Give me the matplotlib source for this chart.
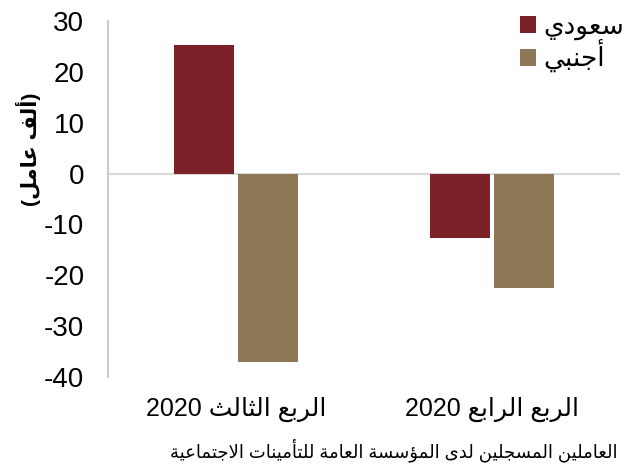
import re

import matplotlib.pyplot as plt
import numpy as np

# data (thousand workers)
categories = ["الربع الثالث 2020", "الربع الرابع 2020"]
series_names = ["سعودي", "أجنبي"]
saudi = [25.3, -12.7]
foreign = [-37.0, -22.5]
y_label = "(ألف عامل)"
source_note = "العاملين المسجلين لدى المؤسسة العامة للتأمينات الاجتماعية"

colors = ["#7d2129", "#8c7757"]

# --- minimal Arabic shaping (presentation forms + visual RTL order) ---
_letters = "ءآأؤإئابةتثجحخدذرزسشصضطظعغ" + "فقكلمنهوىي"
_counts = [1, 2, 2, 2, 2, 4, 2, 4, 2, 4, 4, 4, 4, 4, 2, 2, 2, 2,
           4, 4, 4, 4, 4, 4, 4, 4, 4, 4, 4, 4, 4, 4, 4, 2, 2, 4]
FORMS = {}
_cp = 0xFE80
for _ch, _n in zip(_letters, _counts):
    FORMS[_ch] = [chr(_cp + k) for k in range(_n)]
    _cp += _n
LAM_ALEF = {"ا": ("\uFEFB", "\uFEFC"), "أ": ("\uFEF7", "\uFEF8"),
            "إ": ("\uFEF9", "\uFEFA"), "آ": ("\uFEF5", "\uFEF6")}


def ar(text):
    out = []
    prev_joins = False
    i = 0
    while i < len(text):
        c = text[i]
        if c not in FORMS:
            out.append(c)
            prev_joins = False
            i += 1
            continue
        if c == "ل" and i + 1 < len(text) and text[i + 1] in LAM_ALEF:
            out.append(LAM_ALEF[text[i + 1]][1 if prev_joins else 0])
            prev_joins = False
            i += 2
            continue
        nxt = text[i + 1] if i + 1 < len(text) else ""
        forms = FORMS[c]
        to_next = len(forms) == 4 and nxt in FORMS
        if len(forms) == 1:
            g = forms[0]
        elif prev_joins and to_next:
            g = forms[3]
        elif prev_joins:
            g = forms[1]
        elif to_next:
            g = forms[2]
        else:
            g = forms[0]
        out.append(g)
        prev_joins = to_next
        i += 1
    r = "".join(out)[::-1].translate(str.maketrans("()", ")("))
    return re.sub(r"[0-9]+", lambda m: m.group(0)[::-1], r)


plt.rcParams["font.family"] = ["Liberation Sans", "DejaVu Sans"]
plt.rcParams["axes.unicode_minus"] = False

fig = plt.figure(figsize=(6.29, 4.65), dpi=100)
ax = fig.add_axes([108 / 629, 1 - 377 / 465, 512 / 629, 356 / 465])

x = np.arange(len(categories))
w = 0.235
off = 0.126
ax.bar(x - off, saudi, w, color=colors[0], label=ar(series_names[0]))
ax.bar(x + off, foreign, w, color=colors[1], label=ar(series_names[1]))

ax.set_xlim(-0.5, 1.5)
ax.set_ylim(-40, 30)
ax.set_yticks(range(-40, 31, 10))
ax.axhline(0, color="#d9d9d9", linewidth=1.5, zorder=0)

for side in ["top", "right", "bottom"]:
    ax.spines[side].set_visible(False)
ax.spines["left"].set_color("#cccccc")
ax.spines["left"].set_linewidth(1.5)

ax.tick_params(axis="y", length=0, pad=17, labelsize=20)
ax.tick_params(axis="x", length=0, pad=14, labelsize=18)
ax.set_xticks(x)
ax.set_xticklabels([ar(c) for c in categories])

fig.text(28 / 629, 1 - 149 / 465, ar(y_label), rotation=90, fontsize=15,
         fontweight="bold", ha="center", va="center")
fig.text(618 / 629, 1 - 450 / 465, ar(source_note), fontsize=13,
         ha="right", va="center")

ax.legend(loc="upper right", bbox_to_anchor=(643 / 629, 1 + 4 / 465),
          bbox_transform=fig.transFigure, frameon=False, fontsize=19,
          handlelength=0.6, handleheight=0.6, handletextpad=0.3,
          labelspacing=0.0, borderpad=0.2)

fig.savefig("out.png", dpi=100)
